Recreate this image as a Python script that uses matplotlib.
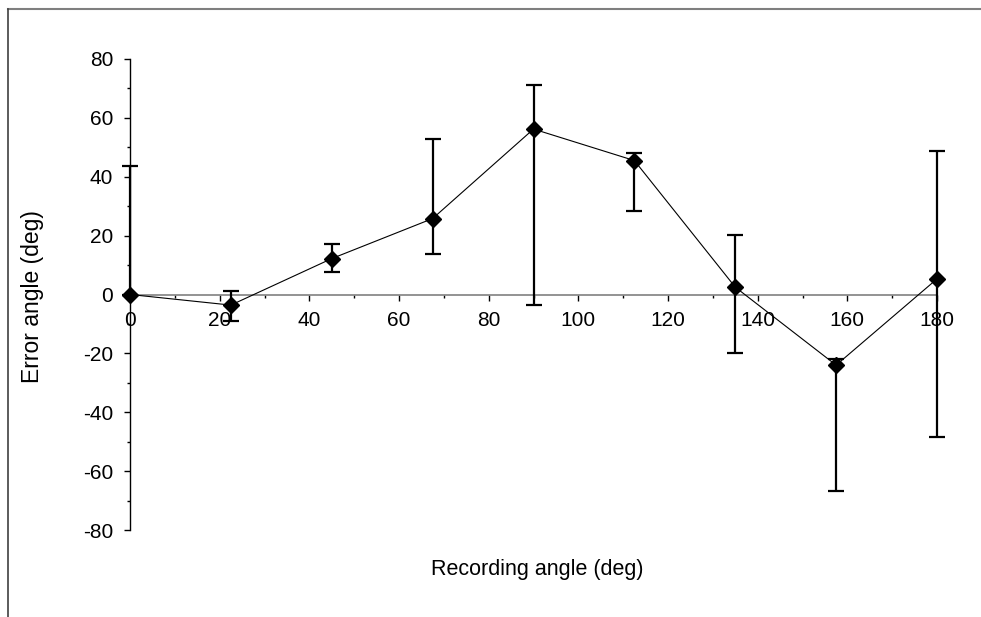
import numpy as np
import matplotlib
matplotlib.use("Agg")
import matplotlib.pyplot as plt
from matplotlib.lines import Line2D
from matplotlib.ticker import FuncFormatter

# recording angles and measured error angles (deg)
rec_angle = [0, 22.5, 45, 67.5, 90, 112.5, 135, 157.5, 180]
err_angle = [0.0, -3.6, 12.2, 25.8, 56.2, 45.5, 2.5, -24.0, 5.3]
err_upper = [43.7, 1.3, 17.0, 52.8, 71.3, 48.1, 20.1, -21.9, 48.6]
err_lower = [0.0, -8.9, 7.6, 13.7, -3.5, 28.5, -19.9, -66.6, -48.4]

xticks = [0, 20, 40, 60, 80, 100, 120, 140, 160, 180]
yticks = [-80, -60, -40, -20, 0, 20, 40, 60, 80]

plt.rcParams['font.family'] = ['Liberation Sans', 'DejaVu Sans']

fig = plt.figure(figsize=(9.81, 6.17), dpi=100)
ax = fig.add_axes([130 / 981, (617 - 530) / 617, (937 - 130) / 981, (530 - 59) / 617])

y = np.array(err_angle)
yerr = [y - np.array(err_lower), np.array(err_upper) - y]

ax.plot(rec_angle, err_angle, color='black', lw=0.8, zorder=3)
ax.errorbar(rec_angle, err_angle, yerr=yerr, fmt='none', ecolor='black',
            elinewidth=1.6, capsize=5.8, capthick=1.6, zorder=4, clip_on=False)
ax.plot(rec_angle, err_angle, 'D', color='black', ms=8, zorder=5, clip_on=False)

ax.set_xlim(0, 180)
ax.set_ylim(-80, 80)

for s in ['top', 'right']:
    ax.spines[s].set_visible(False)
ax.spines['bottom'].set_position(('data', 0))
ax.spines['bottom'].set_color('#808080')
ax.spines['bottom'].set_linewidth(1.2)
ax.spines['left'].set_color('black')
ax.spines['left'].set_linewidth(1.0)

hyphen = FuncFormatter(lambda v, p: f"{v:g}".replace('\u2212', '-'))
ax.xaxis.set_major_formatter(hyphen)
ax.yaxis.set_major_formatter(hyphen)

ax.set_xticks(xticks)
ax.set_xticks(np.arange(10, 180, 20), minor=True)
ax.set_yticks(yticks)
ax.set_yticks(np.arange(-70, 80, 20), minor=True)
ax.tick_params(axis='both', which='major', direction='out', length=4,
               width=1, labelsize=15, color='black')
ax.tick_params(axis='both', which='minor', direction='out', length=2, width=1, color='black')
ax.tick_params(axis='x', pad=8)
ax.tick_params(axis='y', pad=8)

fig.text(537 / 981, 1 - 569 / 617, 'Recording angle (deg)', ha='center', va='center', fontsize=15.5)
fig.text(33 / 981, 1 - 297 / 617, 'Error angle (deg)', ha='center', va='center',
         rotation=90, fontsize=16.5)

# chart area border (partially visible)
fig.add_artist(Line2D([8 / 981, 1], [1 - 8.5 / 617, 1 - 8.5 / 617], color='#7f7f7f', lw=1.5,
                      transform=fig.transFigure))
fig.add_artist(Line2D([7.5 / 981, 7.5 / 981], [0, 1 - 8.5 / 617], color='#404040', lw=1.2,
                      transform=fig.transFigure))

fig.savefig('out.png', dpi=100)
